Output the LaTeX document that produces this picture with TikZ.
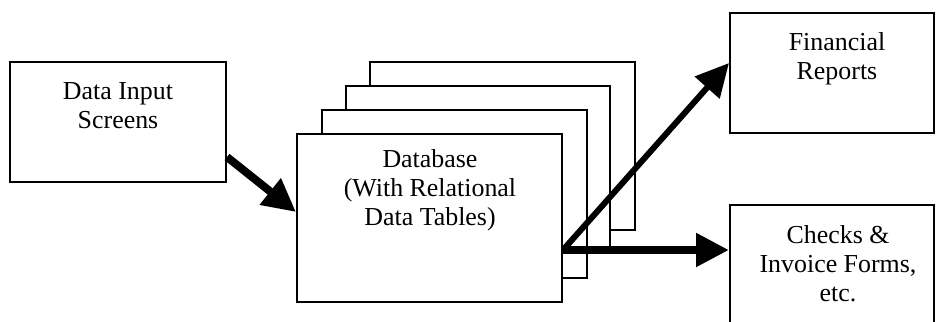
\documentclass[tikz,border=0pt]{standalone}
\usepackage{fontspec}
\setmainfont{Liberation Serif}
\usetikzlibrary{arrows.meta,calc}
\begin{document}
\begin{tikzpicture}[x=1bp,y=-1bp,
  box/.style={draw=black, line width=2bp, fill=white, rectangle, inner sep=0pt},
  page/.style={box, minimum width=265bp, minimum height=168bp},
  txt/.style={align=center, font=\fontsize{26}{29}\selectfont, inner sep=0pt},
  flow/.style={line width=7bp, -{Triangle[length=33bp,width=32bp]}},
]
\useasboundingbox (0,0) rectangle (936,321);
\clip (0,0) rectangle (936,321);

% input screens
\node[box, minimum width=216bp, minimum height=120bp] (inp) at (118,122) {};
\node[txt] (inpT) at (118,106) {Data Input\\Screens};

% stacked database pages, back to front
\node[page] (db4) at (502,145.5) {};
\node[page, minimum height=162bp, minimum width=264bp] (db3) at (478,167) {};
\node[page] (db2) at (454,193.5) {};
\node[page] (db) at (429.5,218) {};
\node[txt] (dbT) at (430,190) {Database\\(With Relational\\Data Tables)};

% outputs
\node[box, minimum width=204bp, minimum height=120bp] (fin) at (832,73) {};
\node[txt] (finT) at (837,59) {Financial\\Reports};
\node[box, minimum width=204bp, minimum height=120bp] (chk) at (832,265) {};
\node[txt] (chkT) at (838,264) {Checks \&\\Invoice Forms,\\etc.};

% flow arrows
\coordinate (inOut) at ($(inp.east)+(0,35)$);
\coordinate (dbIn) at ($(db.west)+(0,-6)$);
\coordinate (dbOut) at ($(db.east)+(0,32)$);
\coordinate (finIn) at ($(fin.west)+(0,-10)$);
\draw[flow, line width=8bp] (inOut) -- (dbIn);
\draw[flow, line width=6bp] (dbOut) -- (finIn);
\draw[flow, line width=8bp] (dbOut) -- (dbOut -| chk.west);
\end{tikzpicture}
\end{document}
